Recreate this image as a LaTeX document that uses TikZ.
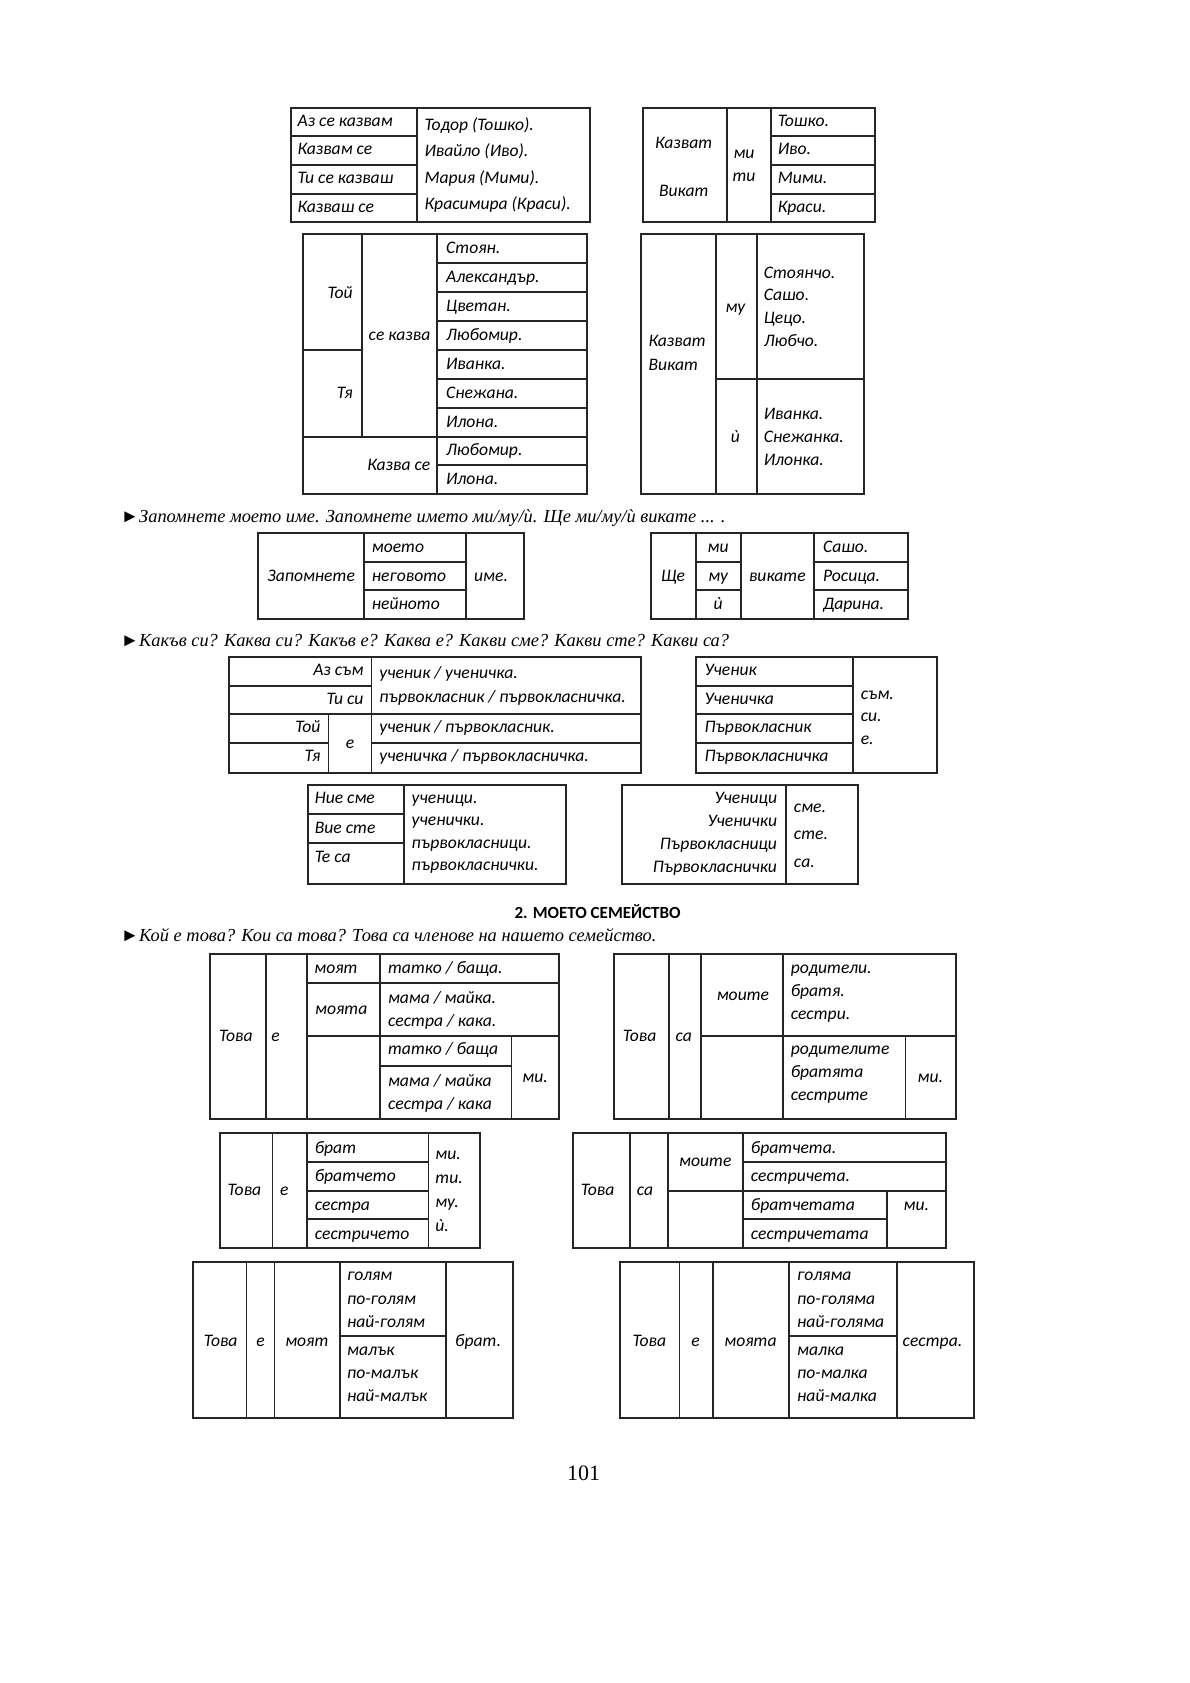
\documentclass[tikz,border=0pt]{standalone}
\usepackage{fontspec}
\newfontfamily\tabfont{Carlito}
\newfontfamily\instrfont{Liberation Serif}

\tikzset{Frame/.style={draw=black!85,line width=1pt}}
\tikzset{Rule/.style={draw=black!85,line width=0.9pt}}
\tikzset{Cell/.style={inner sep=0pt,anchor=west,text height=6pt,text depth=1.5pt,font=\tabfont\itshape\fontsize{8.8}{10}\selectfont}}
\tikzset{CellR/.style={Cell,anchor=east}}
\tikzset{CellC/.style={Cell,anchor=center}}
\tikzset{Task/.style={inner sep=0pt,anchor=west,text height=6.5pt,text depth=2pt,font=\instrfont\itshape\fontsize{9.2}{11}\selectfont}}

\begin{document}
\begin{tikzpicture}[x=0.5385pt,y=-0.5385pt]
\useasboundingbox[fill=white] (0,0) rectangle (1105,1563);

% table A
\draw[Frame] (270,100) rectangle (548,206);
\draw[Rule] (387,100) -- (387,206);
\foreach \y in {126,153,180} \draw[Rule] (270,\y) -- (387,\y);
\foreach \t [count=\i] in {Аз се казвам,Казвам се,Ти се казваш,Казваш се}
  \node[Cell] (az\i) at (276,{113+26.7*(\i-1)}) {\t};
\foreach \t [count=\i] in {Тодор (Тошко).,Ивайло (Иво).,Мария (Мими).,Красимира (Краси).}
  \node[Cell] (ime\i) at (394,{117+24.4*(\i-1)}) {\t};

% table B
\draw[Frame] (597,100) rectangle (813,206);
\draw[Rule] (675,100) -- (675,206);
\draw[Rule] (716,100) -- (716,206);
\foreach \y in {126,153,180} \draw[Rule] (716,\y) -- (813,\y);
\node[CellC] (kazvat1) at (635,134) {Казват};
\node[CellC] (vikat1) at (635,178) {Викат};
\node[CellC] (mi1) at (691,143) {ми};
\node[CellC] (ti1) at (691,164) {ти};
\foreach \t [count=\i] in {Тошко.,Иво.,Мими.,Краси.}
  \node[Cell] (kr\i) at (722,{113+26.7*(\i-1)}) {\t};

% table C
\draw[Frame] (281,217) rectangle (545,459);
\draw[Rule] (406,217) -- (406,459);
\draw[Rule] (336,217) -- (336,406);
\draw[Rule] (281,325) -- (336,325);
\draw[Rule] (281,406) -- (406,406);
\foreach \y in {244,271,298,325,352,379,406,432} \draw[Rule] (406,\y) -- (545,\y);
\node[CellR] (toi) at (328,273) {Той};
\node[CellR] (tya) at (328,366) {Тя};
\node[CellR] (sekazva) at (400,312) {се казва};
\node[CellR] (kazvase) at (400,433) {Казва се};
\foreach \t [count=\i] in {Стоян.,Александър.,Цветан.,Любомир.,Иванка.,Снежана.,Илона.,Любомир.,Илона.}
  \node[Cell] (name\i) at (414,{231+26.9*(\i-1)}) {\t};

% table D
\draw[Frame] (595,217) rectangle (802,459);
\draw[Rule] (665,217) -- (665,459);
\draw[Rule] (703,217) -- (703,459);
\draw[Rule] (665,352) -- (802,352);
\node[Cell] (kazvat2) at (602,318) {Казват};
\node[Cell] (vikat2) at (602,340) {Викат};
\node[CellC] (mu2) at (683,286) {му};
\node[CellC] (i2) at (683,407) {ѝ};
\foreach \t [count=\i] in {Стоянчо.,Сашо.,Цецо.,Любчо.}
  \node[Cell] (mal\i) at (709,{254+21.3*(\i-1)}) {\t};
\foreach \t [count=\i] in {Иванка.,Снежанка.,Илонка.}
  \node[Cell] (fem\i) at (709,{385+21.5*(\i-1)}) {\t};

% task 1
\node[Task] (task1) at (112,481) {►Запомнете моето име. Запомнете името ми/му/ѝ. Ще ми/му/ѝ викате ... .};

% table E
\draw[Frame] (240,495) rectangle (487,575);
\draw[Rule] (338,495) -- (338,575);
\draw[Rule] (433,495) -- (433,575);
\foreach \y in {522,548} \draw[Rule] (338,\y) -- (433,\y);
\node[CellC] (zap) at (289,536) {Запомнете};
\foreach \t [count=\i] in {моето,неговото,нейното}
  \node[Cell] (poss\i) at (345,{509+26.5*(\i-1)}) {\t};
\node[Cell] (ime) at (440,536) {име.};

% table F
\draw[Frame] (605,495) rectangle (843,575);
\foreach \x in {646,688,756} \draw[Rule] (\x,495) -- (\x,575);
\foreach \y in {522,548} {
  \draw[Rule] (646,\y) -- (688,\y);
  \draw[Rule] (756,\y) -- (843,\y);
}
\node[CellC] (shte) at (625,536) {Ще};
\foreach \t [count=\i] in {ми,му,ѝ}
  \node[CellC] (pron\i) at (667,{509+26.5*(\i-1)}) {\t};
\node[CellC] (vikate) at (722,536) {викате};
\foreach \t [count=\i] in {Сашо.,Росица.,Дарина.}
  \node[Cell] (nick\i) at (764,{509+26.5*(\i-1)}) {\t};

% task 2
\node[Task] (task2) at (112,596) {►Какъв си? Каква си? Какъв е? Каква е? Какви сме? Какви сте? Какви са?};

% table G
\draw[Frame] (213,610) rectangle (595,718);
\draw[Rule] (345,610) -- (345,718);
\draw[Rule] (305,663) -- (305,718);
\draw[Rule] (213,637) -- (345,637);
\draw[Rule] (213,663) -- (595,663);
\draw[Rule] (213,690) -- (305,690);
\draw[Rule] (345,690) -- (595,690);
\node[CellR] (azsam) at (338,623) {Аз съм};
\node[CellR] (tisi) at (338,650) {Ти си};
\node[CellR] (toi3) at (298,676) {Той};
\node[CellR] (tya3) at (298,703) {Тя};
\node[CellC] (e3) at (325,691) {е};
\node[Cell] (uch1) at (352,626) {ученик / ученичка.};
\node[Cell] (uch2) at (352,648) {първокласник / първокласничка.};
\node[Cell] (uch3) at (352,676) {ученик / първокласник.};
\node[Cell] (uch4) at (352,703) {ученичка / първокласничка.};

% table H
\draw[Frame] (646,610) rectangle (870,718);
\draw[Rule] (792,610) -- (792,718);
\foreach \y in {637,663,690} \draw[Rule] (646,\y) -- (792,\y);
\foreach \t [count=\i] in {Ученик,Ученичка,Първокласник,Първокласничка}
  \node[Cell] (noun\i) at (654,{623+26.7*(\i-1)}) {\t};
\foreach \t [count=\i] in {съм.,си.,е.}
  \node[Cell] (verb\i) at (799,{645+21*(\i-1)}) {\t};

% table I
\draw[Frame] (286,729) rectangle (526,821);
\draw[Rule] (375,729) -- (375,821);
\foreach \y in {756,783} \draw[Rule] (286,\y) -- (375,\y);
\foreach \t [count=\i] in {Ние сме,Вие сте,Те са}
  \node[Cell] (pl\i) at (292,{742+27.5*(\i-1)}) {\t};
\foreach \t [count=\i] in {ученици.,ученички.,първокласници.,първокласнички.}
  \node[Cell] (ucpl\i) at (382,{742+20.7*(\i-1)}) {\t};

% table J
\draw[Frame] (578,729) rectangle (797,821);
\draw[Rule] (730,729) -- (730,821);
\foreach \t [count=\i] in {Ученици,Ученички,Първокласници,Първокласнички}
  \node[CellR] (npl\i) at (722,{742+21.3*(\i-1)}) {\t};
\foreach \t [count=\i] in {сме.,сте.,са.}
  \node[Cell] (vpl\i) at (737,{750+25.5*(\i-1)}) {\t};

% heading and task 3
\node[inner sep=0pt,font=\tabfont\bfseries\fontsize{8.5}{10}\selectfont] (head) at (555,847) {2. МОЕТО СЕМЕЙСТВО};
\node[Task] (task3) at (112,870) {►Кой е това? Кои са това? Това са членове на нашето семейство.};

% table K
\draw[Frame] (195,886) rectangle (519,1039);
\foreach \x in {247,285,353} \draw[Rule] (\x,886) -- (\x,1039);
\draw[Rule] (475,962) -- (475,1039);
\draw[Rule] (285,913) -- (519,913);
\draw[Rule] (285,962) -- (519,962);
\draw[Rule] (353,990) -- (475,990);
\node[CellC] (tova1) at (219,963) {Това};
\node[CellC] (e1) at (256,963) {е};
\node[CellC] (moyat1) at (312,900) {моят};
\node[CellC] (moyata1) at (317,938) {моята};
\node[Cell] (fam1) at (360,900) {татко / баща.};
\node[Cell] (fam2) at (360,928) {мама / майка.};
\node[Cell] (fam3) at (360,949) {сестра / кака.};
\node[Cell] (fam4) at (360,975) {татко / баща};
\node[Cell] (fam5) at (360,1005) {мама / майка};
\node[Cell] (fam6) at (360,1026) {сестра / кака};
\node[CellC] (mi3) at (497,1001) {ми.};

% table L
\draw[Frame] (570,886) rectangle (888,1039);
\foreach \x in {621,651,727} \draw[Rule] (\x,886) -- (\x,1039);
\draw[Rule] (841,962) -- (841,1039);
\draw[Rule] (651,962) -- (888,962);
\node[CellC] (tova2) at (594,963) {Това};
\node[CellC] (sa2) at (635,963) {са};
\node[CellC] (moite2) at (690,925) {моите};
\foreach \t [count=\i] in {родители.,братя.,сестри.}
  \node[Cell] (rod\i) at (734,{900+21.5*(\i-1)}) {\t};
\foreach \t [count=\i] in {родителите,братята,сестрите}
  \node[Cell] (rodm\i) at (734,{975+21.5*(\i-1)}) {\t};
\node[CellC] (mi4) at (864,1001) {ми.};

% table M
\draw[Frame] (204,1052) rectangle (446,1159);
\foreach \x in {253,285,398} \draw[Rule] (\x,1052) -- (\x,1159);
\foreach \y in {1079,1106,1132} \draw[Rule] (285,\y) -- (398,\y);
\node[CellC] (tova3) at (227,1106) {Това};
\node[CellC] (e5) at (264,1106) {е};
\foreach \t [count=\i] in {брат,братчето,сестра,сестричето}
  \node[Cell] (sib\i) at (292,{1067+26.5*(\i-1)}) {\t};
\foreach \t [count=\i] in {ми.,ти.,му.,ѝ.}
  \node[Cell] (pos\i) at (404,{1073+22.3*(\i-1)}) {\t};

% table N
\draw[Frame] (532,1052) rectangle (879,1159);
\foreach \x in {585,620,690} \draw[Rule] (\x,1052) -- (\x,1159);
\draw[Rule] (824,1106) -- (824,1159);
\draw[Rule] (690,1079) -- (879,1079);
\draw[Rule] (620,1106) -- (879,1106);
\draw[Rule] (690,1132) -- (824,1132);
\node[CellC] (tova4) at (555,1106) {Това};
\node[CellC] (sa4) at (599,1106) {са};
\node[CellC] (moite4) at (655,1079) {моите};
\foreach \t [count=\i] in {братчета.,сестричета.,братчетата,сестричетата}
  \node[Cell] (sibs\i) at (697,{1067+26.5*(\i-1)}) {\t};
\node[CellC] (mi5) at (851,1120) {ми.};

% table O
\draw[Frame] (179,1172) rectangle (476,1317);
\foreach \x in {229,255,316,414} \draw[Rule] (\x,1172) -- (\x,1317);
\draw[Rule] (316,1241) -- (414,1241);
\node[CellC] (tova5) at (205,1246) {Това};
\node[CellC] (e6) at (242,1246) {е};
\node[CellC] (moyat5) at (285,1246) {моят};
\foreach \t [count=\i] in {голям,по-голям,най-голям}
  \node[Cell] (big\i) at (322,{1185+22*(\i-1)}) {\t};
\foreach \t [count=\i] in {малък,по-малък,най-малък}
  \node[Cell] (small\i) at (322,{1255+21*(\i-1)}) {\t};
\node[CellC] (brat5) at (444,1246) {брат.};

% table P
\draw[Frame] (576,1172) rectangle (905,1317);
\foreach \x in {631,662,733,833} \draw[Rule] (\x,1172) -- (\x,1317);
\draw[Rule] (733,1241) -- (833,1241);
\node[CellC] (tova6) at (603,1246) {Това};
\node[CellC] (e7) at (646,1246) {е};
\node[CellC] (moyata6) at (697,1246) {моята};
\foreach \t [count=\i] in {голяма,по-голяма,най-голяма}
  \node[Cell] (bigf\i) at (740,{1185+22*(\i-1)}) {\t};
\foreach \t [count=\i] in {малка,по-малка,най-малка}
  \node[Cell] (smallf\i) at (740,{1255+21*(\i-1)}) {\t};
\node[CellC] (sestra6) at (866,1246) {сестра.};

% page number
\node[inner sep=0pt,font=\instrfont\fontsize{11}{13}\selectfont] (page) at (542,1368) {101};

\end{tikzpicture}
\end{document}
